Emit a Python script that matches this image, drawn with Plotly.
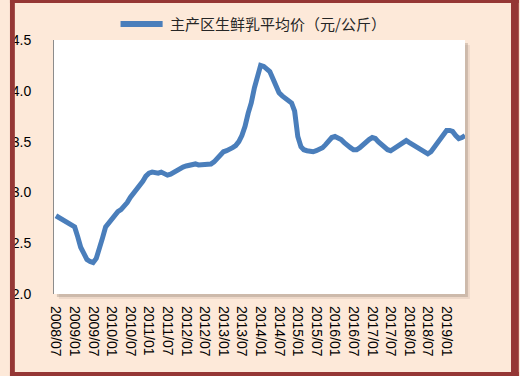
import plotly.graph_objects as go
import pandas as pd

# Monthly data, 2008/07 .. 2019/07
months = pd.date_range("2008-07-01", "2019-07-01", freq="MS").strftime("%Y-%m-%d").tolist()
price = [
    2.77, 2.75, 2.73, 2.71, 2.70, 2.68, 2.66, 2.56, 2.46, 2.40, 2.34, 2.32,
    2.31, 2.35, 2.44, 2.55, 2.66, 2.70, 2.74, 2.77, 2.81, 2.83, 2.86, 2.90,
    2.95, 2.99, 3.02, 3.06, 3.11, 3.16, 3.19, 3.20, 3.19, 3.19, 3.20, 3.19,
    3.17, 3.18, 3.20, 3.22, 3.23, 3.25, 3.26, 3.27, 3.28, 3.28, 3.27, 3.27,
    3.27, 3.27, 3.28, 3.30, 3.33, 3.37, 3.40, 3.41, 3.42, 3.44, 3.46, 3.50,
    3.56, 3.65, 3.78, 3.88, 4.03, 4.16, 4.25, 4.24, 4.22, 4.19, 4.12, 4.04,
    3.98, 3.95, 3.93, 3.91, 3.88, 3.80, 3.55, 3.45, 3.42, 3.41, 3.40, 3.40,
    3.41, 3.42, 3.44, 3.47, 3.51, 3.54, 3.55, 3.54, 3.52, 3.49, 3.46, 3.44,
    3.42, 3.42, 3.44, 3.47, 3.50, 3.52, 3.54, 3.53, 3.50, 3.47, 3.44, 3.42,
    3.41, 3.43, 3.46, 3.48, 3.50, 3.51, 3.49, 3.47, 3.46, 3.44, 3.42, 3.40,
    3.38, 3.40, 3.44, 3.48, 3.53, 3.57, 3.61, 3.61, 3.60, 3.56, 3.53, 3.54,
    3.56,
]
series_name = "主产区生鲜乳平均价（元/公斤）"
tick_dates = pd.date_range("2008-07-01", "2019-01-01", freq="6MS").strftime("%Y-%m-%d").tolist()
tick_text = pd.date_range("2008-07-01", "2019-01-01", freq="6MS").strftime("%Y/%m").tolist()
y_ticks = [2.0, 2.5, 3.0, 3.5, 4.0, 4.5]

W, H = 520, 376
L, R, T, B = 45, 55, 40, 82
PW, PH = W - L - R, H - T - B

def px(x):
    return (x - L) / PW

def py(y):
    return (H - B - y) / PH

LINE_COLOR = "#4A7EBB"
BORDER = "#953735"
BG = "#FDE9D9"

fig = go.Figure()
fig.add_trace(go.Scatter(
    x=months, y=price, mode="lines", name=series_name,
    line=dict(color=LINE_COLOR, width=5), showlegend=False,
))

shapes = []
# soft shadow of plot area
for off, col in [(5, "rgba(120,100,90,0.12)"), (3, "rgba(110,95,85,0.25)")]:
    shapes.append(dict(type="rect", xref="paper", yref="paper", layer="below",
                       x0=px(L + off), x1=px(L + PW + off), y0=py(T + off), y1=py(T + PH + off),
                       line=dict(width=0), fillcolor=col))
shapes.append(dict(type="rect", xref="paper", yref="paper", layer="below",
                   x0=0, x1=1, y0=0, y1=1, line=dict(width=0), fillcolor="white"))
# legend sample line
shapes.append(dict(type="line", xref="paper", yref="paper",
                   x0=px(113), x1=px(156), y0=py(24), y1=py(24),
                   line=dict(color=LINE_COLOR, width=6)))
# outer dark red frame
for x0, x1, y0, y1 in [(0, 5, 0, H), (512, W, 0, H), (0, W, 0, 3), (0, W, 372, H)]:
    shapes.append(dict(type="rect", xref="paper", yref="paper",
                       x0=px(x0), x1=px(x1), y0=py(y1), y1=py(y0),
                       line=dict(width=0), fillcolor=BORDER))

fig.update_layout(
    width=W, height=H,
    margin=dict(l=L, r=R, t=T, b=B),
    paper_bgcolor=BG, plot_bgcolor="rgba(0,0,0,0)",
    font=dict(family="Liberation Sans, Arial, sans-serif", size=14, color="black"),
    shapes=shapes,
    annotations=[dict(
        text=series_name, xref="paper", yref="paper", x=px(161), y=py(24),
        xanchor="left", yanchor="middle", showarrow=False,
        font=dict(family="Noto Sans CJK SC", size=15, color="#262626"),
    )],
    xaxis=dict(
        type="date", range=["2008-06-12", "2019-07-01"],
        tickmode="array", tickvals=tick_dates, ticktext=tick_text,
        tickangle=90, showgrid=False, zeroline=False, showline=False,
        ticks="", ticklabelstandoff=11,
        tickfont=dict(size=14, color="black"),
    ),
    yaxis=dict(
        range=[2.0, 4.5], tickmode="array", tickvals=y_ticks,
        ticktext=[f"{v:.1f}" for v in y_ticks],
        showgrid=False, zeroline=False, showline=True, linecolor="#8C8C8C", linewidth=1,
        ticks="", ticklabelstandoff=19,
        tickfont=dict(size=14, color="black"),
    ),
)

fig.write_html(
    "out.html",
    config={"displayModeBar": False},
    post_script="document.body.style.margin='0';document.body.style.overflow='hidden';",
)
